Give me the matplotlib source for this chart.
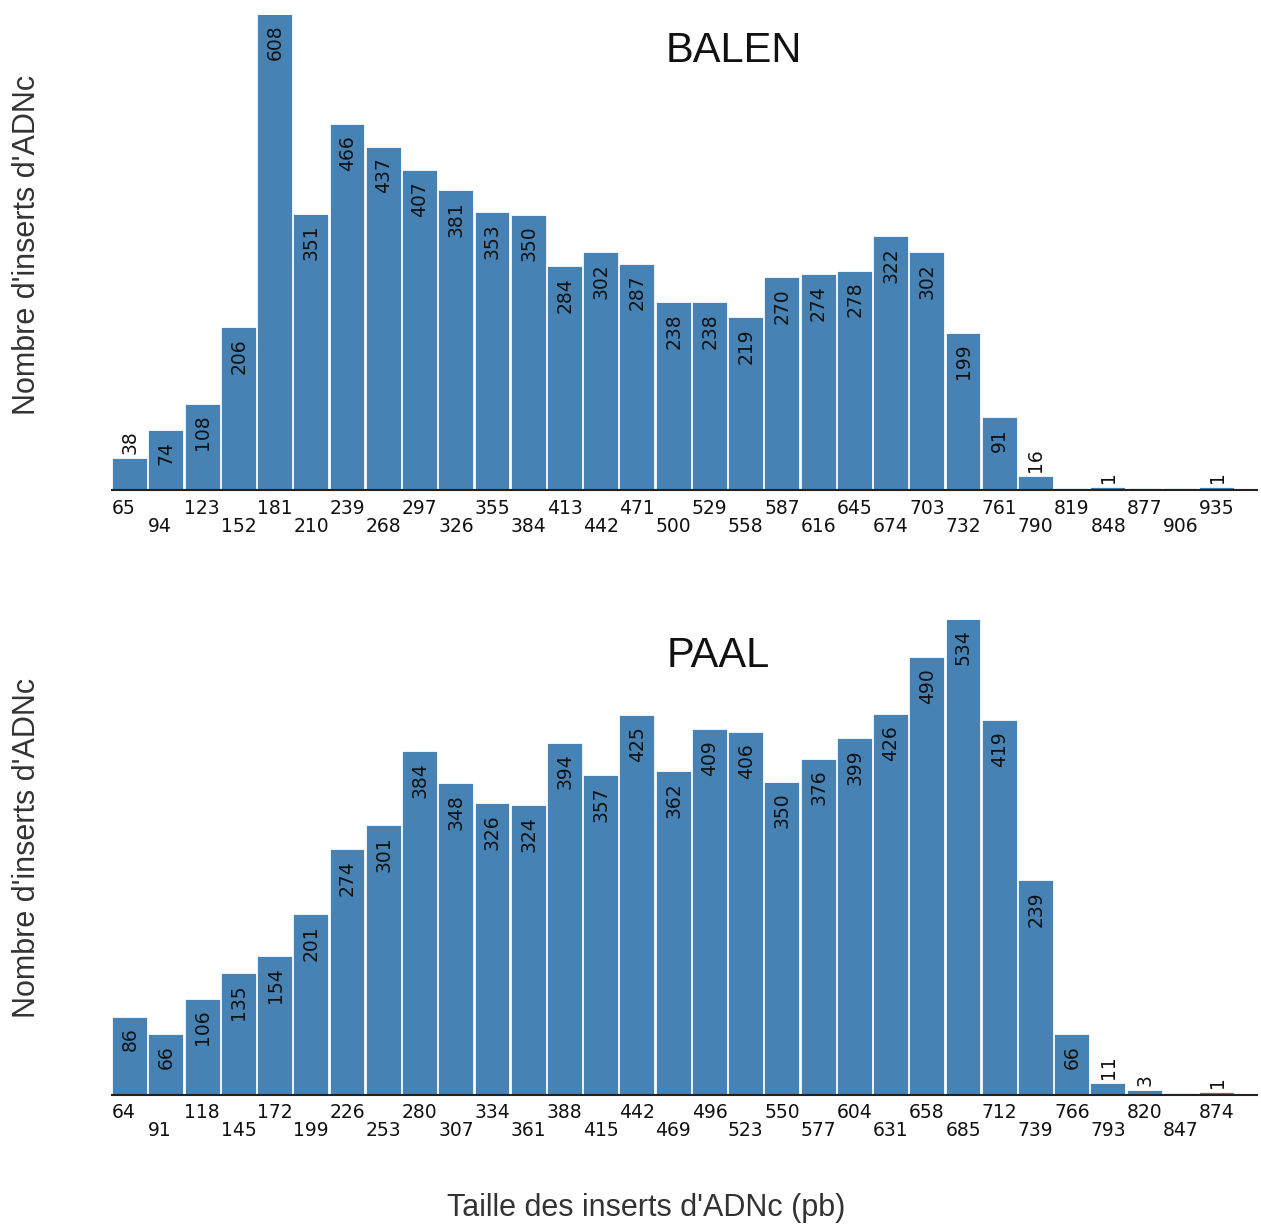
import matplotlib
matplotlib.use('Agg')
from matplotlib import pyplot as plt

# BALEN library: insert size classes (pb) and counts
balen_sizes = [65, 94, 123, 152, 181, 210, 239, 268, 297, 326, 355, 384, 413, 442, 471,
               500, 529, 558, 587, 616, 645, 674, 703, 732, 761, 790, 819, 848, 877, 906, 935]
balen_counts = [38, 74, 108, 206, 608, 351, 466, 437, 407, 381, 353, 350, 284, 302, 287,
                238, 238, 219, 270, 274, 278, 322, 302, 199, 91, 16, 0, 1, 0, 0, 1]

# PAAL library
paal_sizes = [64, 91, 118, 145, 172, 199, 226, 253, 280, 307, 334, 361, 388, 415, 442,
              469, 496, 523, 550, 577, 604, 631, 658, 685, 712, 739, 766, 793, 820, 847, 874]
paal_counts = [86, 66, 106, 135, 154, 201, 274, 301, 384, 348, 326, 324, 394, 357, 425,
               362, 409, 406, 350, 376, 399, 426, 490, 534, 419, 239, 66, 11, 3, 0, 1]

W, H = 1261, 1228
BAR = '#4682B4'
TXT = '#111111'


def draw_panel(ax, sizes, counts):
    n = len(sizes)
    pos = [i + 0.5 for i in range(n)]
    # edge in bar colour gives the tiny bars some visible height
    ax.bar(pos, counts, width=0.88, color=BAR, edgecolor=BAR, linewidth=1.6)
    top = max(counts)
    ax.set_ylim(0, top)
    ax.set_xlim(0, n + 0.6)
    for s in ('top', 'right', 'left'):
        ax.spines[s].set_visible(False)
    ax.spines['bottom'].set_linewidth(1.5)
    ax.spines['bottom'].set_color('#222222')
    ax.spines['bottom'].set_zorder(5)
    ax.set_yticks([])
    ax.set_xticks([])
    # two-row tick labels, left aligned on bar edge
    xt = ax.get_xaxis_transform()
    for i, s in enumerate(sizes):
        off = -18 if i % 2 == 0 else -36
        ax.annotate(str(s), xy=(i, 0), xycoords=xt, xytext=(0, off),
                    textcoords='offset pixels', ha='left', va='center',
                    fontsize=13.5, color=TXT, annotation_clip=False)
    # value labels rotated
    for i, c in enumerate(counts):
        if c <= 0:
            continue
        if c > 0.09 * top:
            ax.annotate(str(c), xy=(i + 0.5, c), xytext=(0, -9), textcoords='offset pixels',
                        rotation=90, ha='center', va='top', fontsize=13.5, color=TXT)
        else:
            ax.annotate(str(c), xy=(i + 0.5, c), xytext=(0, 6), textcoords='offset pixels',
                        rotation=90, ha='center', va='bottom', fontsize=13.5, color=TXT)


fig = plt.figure(figsize=(W / 100, H / 100), dpi=100)
left = 112 / W
width = 1257 / W - left
ax1 = fig.add_axes([left, 1 - 490 / H, width, 475 / H])
ax2 = fig.add_axes([left, 1 - 1095 / H, width, 475 / H])

draw_panel(ax1, balen_sizes, balen_counts)
draw_panel(ax2, paal_sizes, paal_counts)

lab = dict(family='Liberation Sans', color=TXT)
fig.text(734 / W, 1 - 51 / H, 'BALEN', ha='center', va='center', fontsize=30, **lab)
fig.text(718 / W, 1 - 656 / H, 'PAAL', ha='center', va='center', fontsize=30, **lab)
fig.text(27 / W, 1 - 245 / H, "Nombre d'inserts d'ADNc", rotation=90,
         ha='center', va='center', fontsize=22, color='#333333', family='Liberation Sans')
fig.text(27 / W, 1 - 848 / H, "Nombre d'inserts d'ADNc", rotation=90,
         ha='center', va='center', fontsize=22, color='#333333', family='Liberation Sans')
fig.text(646 / W, 1 - 1208 / H, "Taille des inserts d'ADNc (pb)",
         ha='center', va='center', fontsize=22, color='#333333', family='Liberation Sans')

fig.savefig('out.png', dpi=100)
